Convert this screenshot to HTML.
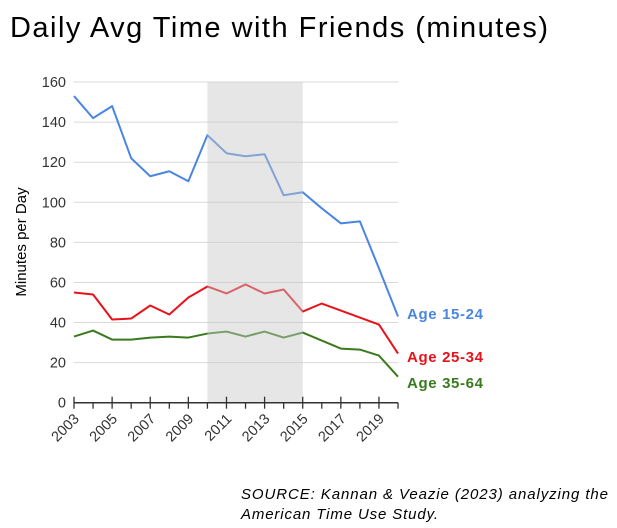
<!DOCTYPE html>
<html><head><meta charset="utf-8"><style>
body{margin:0;background:#fff;width:617px;height:523px;overflow:hidden;font-family:"Liberation Sans",sans-serif}
</style></head><body>
<svg width="617" height="523">
<text x="10" y="37" font-size="29" textLength="538" lengthAdjust="spacing" fill="#000">Daily Avg Time with Friends (minutes)</text>
<g id="grid"></g>
<g id="lines"></g>
<g id="axes"></g>
<text transform="translate(26,242) rotate(-90)" text-anchor="middle" font-size="15" fill="#000">Minutes per Day</text>
<text x="407" y="319" font-size="15" textLength="76" font-weight="bold" fill="#4a86e0">Age 15-24</text>
<text x="407" y="362" font-size="15" textLength="76" font-weight="bold" fill="#e8121a">Age 25-34</text>
<text x="407" y="388" font-size="15" textLength="76" font-weight="bold" fill="#3a7a1e">Age 35-64</text>
<text x="241" y="499" font-size="15" textLength="367" font-style="italic" fill="#000">SOURCE: Kannan &amp; Veazie (2023) analyzing the</text>
<text x="241" y="519" font-size="15" textLength="197" font-style="italic" fill="#000">American Time Use Study.</text>
</svg>
<script>
const years=[2003,2004,2005,2006,2007,2008,2009,2010,2011,2012,2013,2014,2015,2016,2017,2018,2019,2020];
const age1524=[153,142,148,122,113,115.5,110.5,133.5,124.5,123,124,103.5,105,97,89.5,90.5,67,43];
const age2534=[55,54,41.5,42,48.5,44,52.5,58,54.5,59,54.5,56.5,45.5,49.5,46,42.5,39,24.5];
const age3564=[33,36,31.5,31.5,32.5,33,32.5,34.5,35.5,33,35.5,32.5,35,31,27,26.5,23.5,13];
const yTicks=[0,20,40,60,80,100,120,140,160];
const xTickLabels=[2003,2005,2007,2009,2011,2013,2015,2017,2019];
const shadeRange=[2010,2015];
const NS="http://www.w3.org/2000/svg";
const X=y=>74+(y-2003)*19.06;
const Y=v=>402.7-v*2.004;
function mk(tag,attrs,parent){const e=document.createElementNS(NS,tag);for(const k in attrs)e.setAttribute(k,attrs[k]);parent.appendChild(e);return e;}
const grid=document.getElementById('grid'),lines=document.getElementById('lines'),axes=document.getElementById('axes');
yTicks.forEach(t=>{
 if(t>0){const l=mk('line',{x1:74,x2:398,y1:Y(t),y2:Y(t),stroke:'#d9d9d9','stroke-width':1},grid);
 
 }
 const tx=mk('text',{x:66,y:Y(t)+5,'text-anchor':'end','font-size':14.5,fill:'#333'},axes);
 tx.textContent=t;
 
 
});
function series(vals,color,name){
 const p=mk('polyline',{points:vals.map((v,i)=>X(years[i])+','+Y(v)).join(' '),fill:'none',stroke:color,'stroke-width':2,'stroke-linejoin':'round'},lines);
 
 
}
series(age1524,'#4a86e0','line-age-15-24');
series(age2534,'#e8121a','line-age-25-34');
series(age3564,'#3a7a1e','line-age-35-64');
const sh=mk('rect',{x:X(shadeRange[0]),y:Y(160),width:X(shadeRange[1])-X(shadeRange[0]),height:Y(0)-Y(160),fill:'#c8c8c8','fill-opacity':0.45},lines);


const ax=mk('line',{x1:74,x2:398,y1:Y(0),y2:Y(0),stroke:'#333','stroke-width':1.5},axes);


years.forEach(y=>{
 const big=xTickLabels.includes(y);
 const t=mk('line',{x1:X(y),x2:X(y),y1:Y(0)-(big?6:0),y2:Y(0)+6,stroke:'#333','stroke-width':1.3},axes);
 
 
});
xTickLabels.forEach(y=>{
 const tx=mk('text',{x:X(y)+6,y:Y(0)+17,'text-anchor':'end','font-size':14.5,fill:'#333',transform:`rotate(-45 ${X(y)+6} ${Y(0)+17})`},axes);
 tx.textContent=y;
 
 
});
</script>
</body></html>
